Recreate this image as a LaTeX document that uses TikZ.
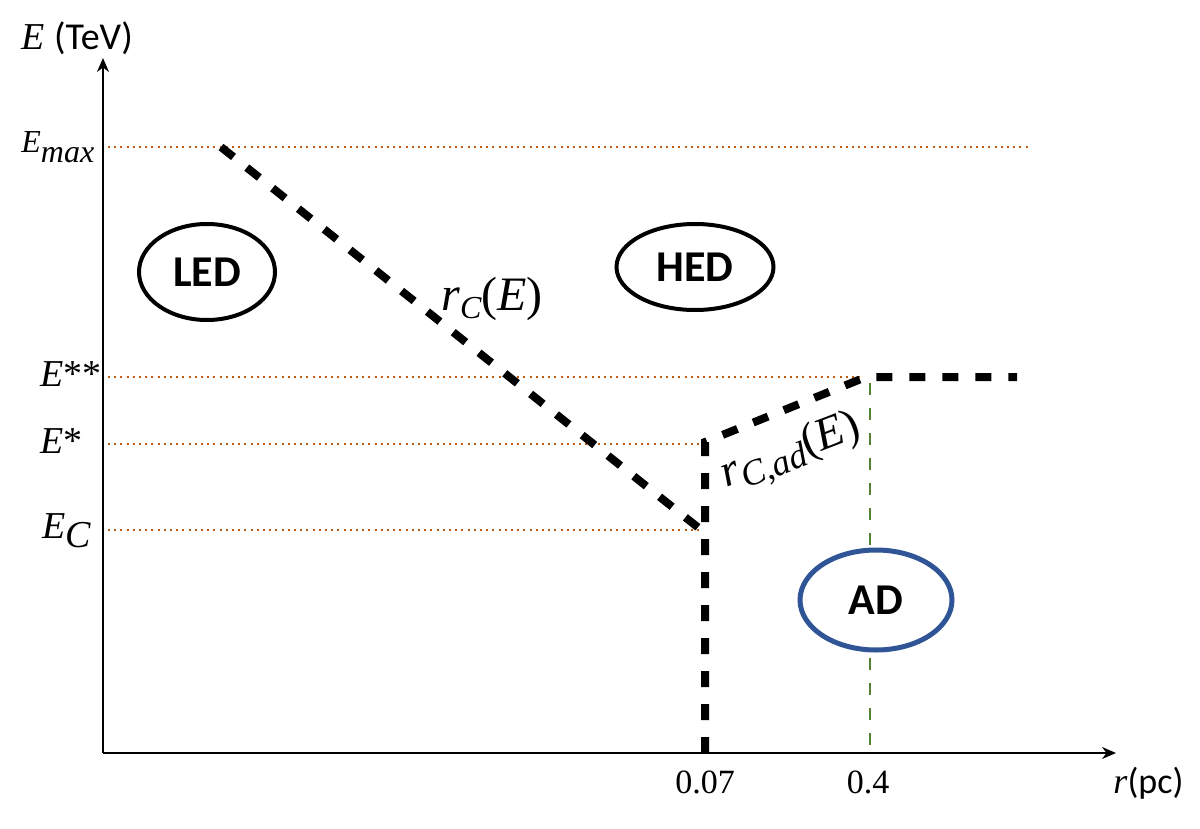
\documentclass[tikz,border=0pt]{standalone}
\usepackage{fontspec}
\setmainfont{Liberation Serif}
\setsansfont{Carlito}
\usetikzlibrary{arrows.meta,shapes.geometric}
\definecolor{guideorange}{RGB}{197,90,17}
\definecolor{guidegreen}{RGB}{84,130,53}
\definecolor{adblue}{RGB}{47,85,151}
\newcommand{\lowsub}[2]{\raisebox{-#1}{\itshape #2}} % lowered index

\begin{document}
\begin{tikzpicture}[x=0.5pt,y=-0.5pt] % pixel units, y grows downwards
\tikzstyle{axisline} = [line width=1pt, -{Stealth[length=7pt,width=6pt]}] % axis with arrow
\tikzstyle{eguide} = [guideorange, line width=1pt, dash pattern=on 1pt off 2.1pt] % energy levels
\tikzstyle{rguide} = [guidegreen, line width=0.9pt, dash pattern=on 6pt off 6.5pt] % radius guide
\tikzstyle{bound} = [line width=4pt, dash pattern=on 8pt off 8.5pt] % thick boundary
\tikzstyle{region} = [ellipse, draw, line width=2pt, fill=white, inner sep=0pt, font=\sffamily\bfseries\fontsize{22}{24}\selectfont] % regime ellipse
\tikzstyle{elabel} = [inner sep=0pt, anchor=base west, font=\fontsize{19}{22}\selectfont] % tick labels on E
\tikzstyle{rlabel} = [inner sep=0pt, anchor=base, font=\fontsize{17}{20}\selectfont] % tick labels on r

\useasboundingbox (0,0) rectangle (1200,829);

% axes
\coordinate (O) at (103,753);
\coordinate (Ytop) at (103,58);
\coordinate (Xend) at (1116,753);
\draw[axisline] (O) -- (Ytop);
\draw[axisline] (O) -- (Xend);
\node[inner sep=0pt, anchor=base west, font=\fontsize{19}{22}\selectfont] (Elab) at (21,50) {\textit{E} \textsf{(TeV)}};
\node[inner sep=0pt, anchor=base west, font=\fontsize{18}{20}\selectfont] (Rlab) at (1113,793) {\textit{r}\textsf{(pc)}};

% energy levels
\node[elabel, font=\fontsize{16}{18}\selectfont] (Emax) at (21,153) {\textit{E}\lowsub{5pt}{max}};
\node[elabel] (Ess) at (40,386) {\textit{E}**};
\node[elabel] (Es) at (40,453) {\textit{E}*};
\node[elabel] (EC) at (42,538) {\textit{E}\lowsub{4.5pt}{C}};
\coordinate (Lmax) at (108,147);  \coordinate (Rmax) at (1030,147);
\coordinate (Lss) at (108,377);   \coordinate (Rss) at (862,377);
\coordinate (Ls) at (108,444);    \coordinate (Rs) at (700,444);
\coordinate (LC) at (108,530);    \coordinate (RC) at (702,530);
\draw[eguide] (Lmax) -- (Rmax);
\draw[eguide] (Lss) -- (Rss);
\draw[eguide] (Ls) -- (Rs);
\draw[eguide] (LC) -- (RC);

% radius ticks
\node[rlabel] (r1) at (705,793) {0.07};
\node[rlabel] (r2) at (868,793) {0.4};
\coordinate (G1) at (870,383);
\coordinate (G2) at (870,753);
\draw[rguide] (G1) -- (G2);

% boundaries
\coordinate (B0) at (221,147);
\coordinate (B1) at (700,529);
\coordinate (B2) at (705,753);
\coordinate (B3) at (705,442);
\coordinate (B4) at (866,377);
\coordinate (B5) at (1017,377);
\draw[bound] (B0) -- (B1);
\draw[bound] (B2) -- (B3) -- (B4) -- (B5);
\node[inner sep=0pt, anchor=base west, font=\fontsize{24}{26}\selectfont] (rC) at (441,310)
  {\textit{r}\raisebox{-4pt}{\fontsize{16}{16}\selectfont\itshape C}(\textit{E})};
\node[inner sep=0pt, anchor=base west, rotate=21, font=\fontsize{23}{25}\selectfont] (rCad) at (726,488)
  {\textit{r}\raisebox{-4pt}{\fontsize{18}{18}\selectfont\itshape C,ad}(\textit{E})};

% regimes
\node[region, minimum width=68pt, minimum height=48pt] (LED) at (207,272) {LED};
\node[region, minimum width=78.5pt, minimum height=43pt] (HED) at (695,267) {HED};
\node[region, draw=adblue, line width=2.5pt, minimum width=76pt, minimum height=50pt] (AD) at (876,600) {AD};
\end{tikzpicture}
\end{document}
